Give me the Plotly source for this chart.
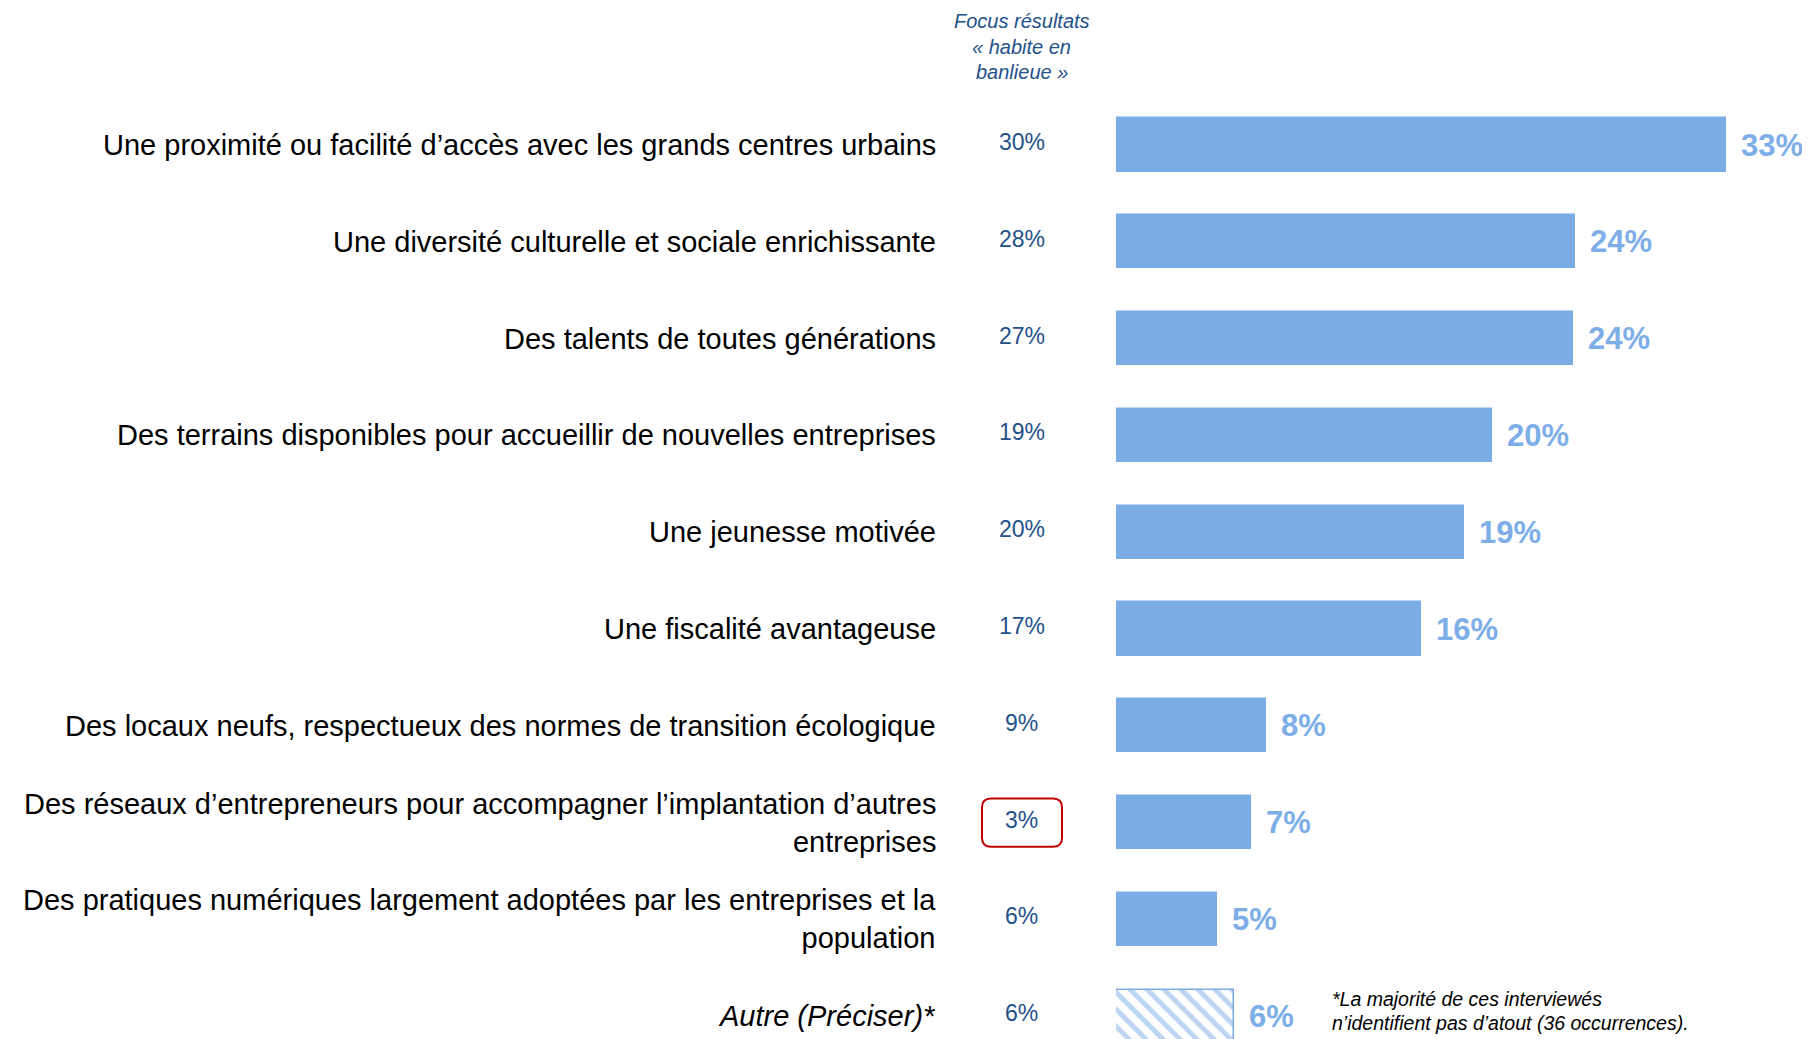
import plotly.graph_objects as go

# ---------------- data ----------------
categories = [
    "Une proximité ou facilité d’accès avec les grands centres urbains",
    "Une diversité culturelle et sociale enrichissante",
    "Des talents de toutes générations",
    "Des terrains disponibles pour accueillir de nouvelles entreprises",
    "Une jeunesse motivée",
    "Une fiscalité avantageuse",
    "Des locaux neufs, respectueux des normes de transition écologique",
    "Des réseaux d’entrepreneurs pour accompagner l’implantation d’autres<br>entreprises",
    "Des pratiques numériques largement adoptées par les entreprises et la<br>population",
    "<i>Autre (Préciser)*</i>",
]
values = [32.6, 24.5, 24.4, 20.1, 18.6, 16.3, 8.0, 7.2, 5.4, 6.3]
value_labels = ["33%", "24%", "24%", "20%", "19%", "16%", "8%", "7%", "5%", "6%"]
focus_labels = ["30%", "28%", "27%", "19%", "20%", "17%", "9%", "3%", "6%", "6%"]
patterns = ["", "", "", "", "", "", "", "", "", "\\"]
highlight_index = 7
header_lines = ["Focus résultats", "« habite en", "banlieue »"]
footnote_lines = ["*La majorité de ces interviewés", "n’identifient pas d’atout (36 occurrences)."]

# ---------------- style ----------------
W, H = 1810, 1039
OFF = 8               # page body margin
BAR = "#7BACE6"
LABEL_BLUE = "#7DAEE8"
DARK = "#23518A"
FONT = "Liberation Sans, Arial, sans-serif"
X0_PX = 1116 - OFF          # left edge of bars
PX_PER_UNIT = 18.72         # pixels per percentage point
ROW0_PX = 145 - OFF         # center of first row
ROW_PX = 96.8               # row spacing
LABEL_RIGHT_PX = 938 - OFF
FOCUS_X_PX = 1022 - OFF
FOOT_X_PX = 1330 - OFF

ypos = list(range(len(categories)))

fig = go.Figure()
fig.add_trace(go.Bar(
    x=values, y=ypos, orientation="h", width=0.55,
    marker=dict(
        color=BAR,
        line=dict(color=BAR, width=1.5),
        pattern=dict(shape=patterns, fgcolor=BAR, bgcolor="white",
                     size=12, solidity=0.42),
    ),
    hoverinfo="skip",
))

annotations = []
for i, (cat, v, vl, fl) in enumerate(zip(categories, values, value_labels, focus_labels)):
    annotations.append(dict(
        x=LABEL_RIGHT_PX / W, xref="paper", y=i, yref="y",
        text=cat, showarrow=False, xanchor="right", align="right",
        font=dict(family=FONT, size=29, color="#000000"),
    ))
    annotations.append(dict(
        x=FOCUS_X_PX / W, xref="paper", y=i, yref="y", yshift=3,
        text=fl, showarrow=False, xanchor="center",
        font=dict(family=FONT, size=23, color=DARK),
    ))
    annotations.append(dict(
        x=v, xref="x", y=i, yref="y", xshift=13,
        text=f"<b>{vl}</b>", showarrow=False, xanchor="left",
        font=dict(family=FONT, size=31, color=LABEL_BLUE),
    ))

for k, line in enumerate(header_lines):
    annotations.append(dict(
        x=FOCUS_X_PX / W, xref="paper", y=1 - (21 - OFF + 25.5 * k) / H, yref="paper",
        text=f"<i>{line}</i>", showarrow=False, xanchor="center", yanchor="middle",
        font=dict(family=FONT, size=20, color=DARK),
    ))

for k, line in enumerate(footnote_lines):
    annotations.append(dict(
        x=FOOT_X_PX / W, xref="paper", y=len(categories) - 1 - 0.18 + 0.25 * k, yref="y",
        text=f"<i>{line}</i>", showarrow=False, xanchor="left", yanchor="middle",
        font=dict(family=FONT, size=19.5, color="#000000"),
    ))

# rounded red box around the highlighted focus value
bx0, bx1 = (982 - OFF) / W, (1062 - OFF) / W
by0, by1 = highlight_index - 0.25, highlight_index + 0.25
rx, ry = 9 / W, 9 / ROW_PX
path = (f"M {bx0+rx},{by0} L {bx1-rx},{by0} Q {bx1},{by0} {bx1},{by0+ry} "
        f"L {bx1},{by1-ry} Q {bx1},{by1} {bx1-rx},{by1} "
        f"L {bx0+rx},{by1} Q {bx0},{by1} {bx0},{by1-ry} "
        f"L {bx0},{by0+ry} Q {bx0},{by0} {bx0+rx},{by0} Z")
shapes = [dict(type="path", xref="paper", yref="y", path=path,
               line=dict(color="#C00000", width=2))]

xmax = (W - X0_PX) / PX_PER_UNIT
y_top = -ROW0_PX / ROW_PX
y_bot = (H - ROW0_PX) / ROW_PX

fig.update_layout(
    width=W, height=H,
    margin=dict(l=0, r=0, t=0, b=0),
    paper_bgcolor="white", plot_bgcolor="white",
    showlegend=False,
    xaxis=dict(domain=[X0_PX / W, 1], range=[0, xmax], visible=False, fixedrange=True),
    yaxis=dict(range=[y_bot, y_top], visible=False, fixedrange=True),
    annotations=annotations,
    shapes=shapes,
    bargap=0,
)

fig.write_html("out.html")
